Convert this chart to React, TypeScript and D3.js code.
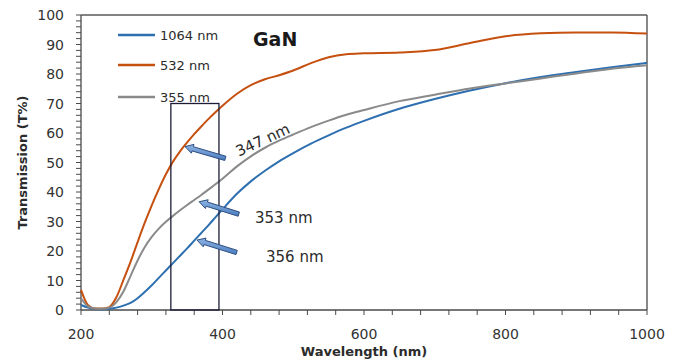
import React from "react";
import * as d3 from "d3";

const wavelengths = [200, 210, 220, 230, 240, 250, 260, 270, 280, 290, 300, 310, 320, 330, 340, 350, 360, 370, 380, 390, 400, 420, 440, 460, 480, 500, 525, 550, 575, 600, 650, 700, 750, 800, 850, 900, 950, 1000];

const t1064 = [1.7, 0.8, 0.3, 0.2, 0.4, 0.8, 1.5, 2.4, 4.0, 6.1, 8.4, 10.9, 13.4, 15.9, 18.4, 20.9, 23.5, 26.1, 28.7, 31.4, 34.1, 39.3, 43.6, 47.2, 50.4, 53.2, 56.4, 59.2, 61.8, 64.1, 68.2, 71.5, 74.4, 76.9, 79.0, 80.7, 82.3, 83.8];
const t532 = [6.8, 1.6, 0.5, 0.5, 1.0, 4.3, 10.2, 16.3, 23.0, 29.5, 35.5, 41.0, 46.0, 50.3, 53.8, 56.8, 59.6, 62.2, 64.7, 67.0, 69.2, 73.2, 76.2, 78.2, 79.6, 81.2, 83.7, 85.7, 86.7, 87.0, 87.3, 88.1, 90.5, 92.8, 93.8, 94.1, 94.1, 93.7];
const t355 = [4.0, 1.2, 0.5, 0.4, 0.8, 2.7, 6.3, 11.5, 16.8, 21.3, 24.8, 27.6, 29.9, 31.9, 33.8, 35.6, 37.3, 39.0, 40.8, 42.6, 44.5, 48.6, 52.1, 55.0, 57.4, 59.5, 62.0, 64.2, 66.2, 67.8, 70.8, 73.0, 75.1, 76.8, 78.5, 80.2, 81.8, 83.0];

const seriesNames = ["1064 nm", "532 nm", "355 nm"];
const seriesColors = ["#2e6fb0", "#c5500f", "#8a8a8a"];
const seriesValues = [t1064, t532, t355];

const xTicksMajor = [200, 400, 600, 800, 1000];
const yTicksMajor = [0, 10, 20, 30, 40, 50, 60, 70, 80, 90, 100];

const boxWavelengths = [327, 395];
const boxTop = 70;

const arrowTips = [[347, 55.4], [367, 36.7], [364, 23.7]];
const arrowTails = [[404, 51.4], [423, 32.5], [420, 19.5]];

const annotationLabels = ["347 nm", "353 nm", "356 nm"];
const annotationPos = [[457, 57.6], [446, 31.2], [461.5, 17.8]];
const annotationRotate = [-25, 0, 0];

const W = 680;
const H = 362;
const left = 81;
const right = 647;
const top = 15;
const bottom = 310;

export default function App() {
  const x = d3.scaleLinear().domain([200, 1000]).range([left, right]);
  const y = d3.scaleLinear().domain([0, 100]).range([bottom, top]);

  const line = d3
    .line<[number, number]>()
    .x((d) => x(d[0]))
    .y((d) => y(d[1]))
    .curve(d3.curveMonotoneX);

  const xMinor = d3.range(200, 1001, 40);
  const yMinor = d3.range(0, 101, 2);

  const arrowPath = (tip: number[], tail: number[]) => {
    const tx = x(tip[0]);
    const ty = y(tip[1]);
    const sx = x(tail[0]);
    const sy = y(tail[1]);
    const dx = tx - sx;
    const dy = ty - sy;
    const len = Math.sqrt(dx * dx + dy * dy);
    const ux = dx / len;
    const uy = dy / len;
    const px = -uy;
    const py = ux;
    const sw = 2.2;
    const hw = 4.6;
    const hl = 8;
    const bx = tx - ux * hl;
    const by = ty - uy * hl;
    const pts = [
      [sx + px * sw, sy + py * sw],
      [bx + px * sw, by + py * sw],
      [bx + px * hw, by + py * hw],
      [tx, ty],
      [bx - px * hw, by - py * hw],
      [bx - px * sw, by - py * sw],
      [sx - px * sw, sy - py * sw],
    ];
    return "M" + pts.map((p) => p[0].toFixed(2) + "," + p[1].toFixed(2)).join("L") + "Z";
  };

  const font = "'DejaVu Sans', Verdana, sans-serif";
  const axisColor = "#4a4a4a";
  const textColor = "#2b2b2b";

  return (
    <svg
      width={W}
      height={H}
      style={{ position: "absolute", left: 0, top: 0, background: "#fff" }}
      fontFamily={font}
    >
      <defs>
        <linearGradient id="arrowGrad" x1="0" y1="0" x2="0" y2="1">
          <stop offset="0" stopColor="#8fb4e3" />
          <stop offset="1" stopColor="#4a7cc0" />
        </linearGradient>
      </defs>
      <rect x={0} y={0} width={W} height={H} fill="#fff" />

      {/* frame */}
      <line x1={left} x2={right} y1={top} y2={top} stroke="#5a5a5a" strokeWidth={1.3} />
      <line x1={right} x2={right} y1={top} y2={bottom} stroke={axisColor} strokeWidth={1.3} />
      <line x1={left} x2={left} y1={top} y2={bottom} stroke={axisColor} strokeWidth={1.3} />
      <line x1={left} x2={right} y1={bottom} y2={bottom} stroke={axisColor} strokeWidth={1.3} />

      {/* y ticks */}
      {yMinor.map((v) => (
        <line key={"ym" + v} x1={left - 5} x2={left} y1={y(v)} y2={y(v)} stroke={axisColor} strokeWidth={1} />
      ))}
      {yTicksMajor.map((v) => (
        <text
          key={"yl" + v}
          x={64}
          y={y(v)}
          textAnchor="end"
          dominantBaseline="central"
          fontSize={14}
          fill="#333"
        >
          {v}
        </text>
      ))}

      {/* x ticks */}
      {xMinor.map((v) => (
        <line key={"xm" + v} x1={x(v)} x2={x(v)} y1={bottom} y2={bottom + 5} stroke={axisColor} strokeWidth={1} />
      ))}
      {xTicksMajor.map((v) => (
        <text key={"xl" + v} x={x(v)} y={339} textAnchor="middle" fontSize={14} fill="#333">
          {v}
        </text>
      ))}

      {/* axis titles */}
      <text x={x(600)} y={356} textAnchor="middle" fontSize={13} fontWeight="bold" fill={textColor}>
        Wavelength (nm)
      </text>
      <text
        transform={`translate(22,${(top + bottom) / 2}) rotate(-90)`}
        textAnchor="middle"
        dominantBaseline="central"
        fontSize={13}
        fontWeight="bold"
        fill={textColor}
      >
        Transmission (T%)
      </text>

      {/* curves */}
      {seriesValues.map((vals, i) => (
        <path
          key={"s" + i}
          d={line(wavelengths.map((w, j) => [w, vals[j]] as [number, number])) || ""}
          fill="none"
          stroke={seriesColors[i]}
          strokeWidth={2}
        />
      ))}

      {/* box */}
      <rect
        x={x(boxWavelengths[0])}
        y={y(boxTop)}
        width={x(boxWavelengths[1]) - x(boxWavelengths[0])}
        height={y(0) - y(boxTop)}
        fill="none"
        stroke="#1c1c38"
        strokeWidth={1.3}
      />

      {/* arrows */}
      {arrowTips.map((tip, i) => (
        <path
          key={"a" + i}
          d={arrowPath(tip, arrowTails[i])}
          fill="url(#arrowGrad)"
          stroke="#2d4f80"
          strokeWidth={1}
          strokeLinejoin="miter"
        />
      ))}

      {/* annotation labels */}
      {annotationLabels.map((lab, i) => {
        const ax = x(annotationPos[i][0]);
        const ay = y(annotationPos[i][1]);
        if (annotationRotate[i] !== 0) {
          return (
            <text
              key={"al" + i}
              transform={`translate(${ax},${ay}) rotate(${annotationRotate[i]})`}
              textAnchor="middle"
              dominantBaseline="central"
              fontSize={15}
              fill={textColor}
            >
              {lab}
            </text>
          );
        }
        return (
          <text key={"al" + i} x={ax} y={ay} dominantBaseline="central" fontSize={15} fill={textColor}>
            {lab}
          </text>
        );
      })}

      {/* legend */}
      {seriesNames.map((n, i) => {
        const ly = [35, 65, 97][i];
        return (
          <g key={"lg" + i}>
            <line x1={118} x2={155} y1={ly} y2={ly} stroke={seriesColors[i]} strokeWidth={2.5} />
            <text x={160} y={ly} dominantBaseline="central" fontSize={13} fill={textColor}>
              {n}
            </text>
          </g>
        );
      })}

      <text x={253} y={39} dominantBaseline="central" fontSize={19} fontWeight="bold" fill="#1a1a1a">
        GaN
      </text>
    </svg>
  );
}
